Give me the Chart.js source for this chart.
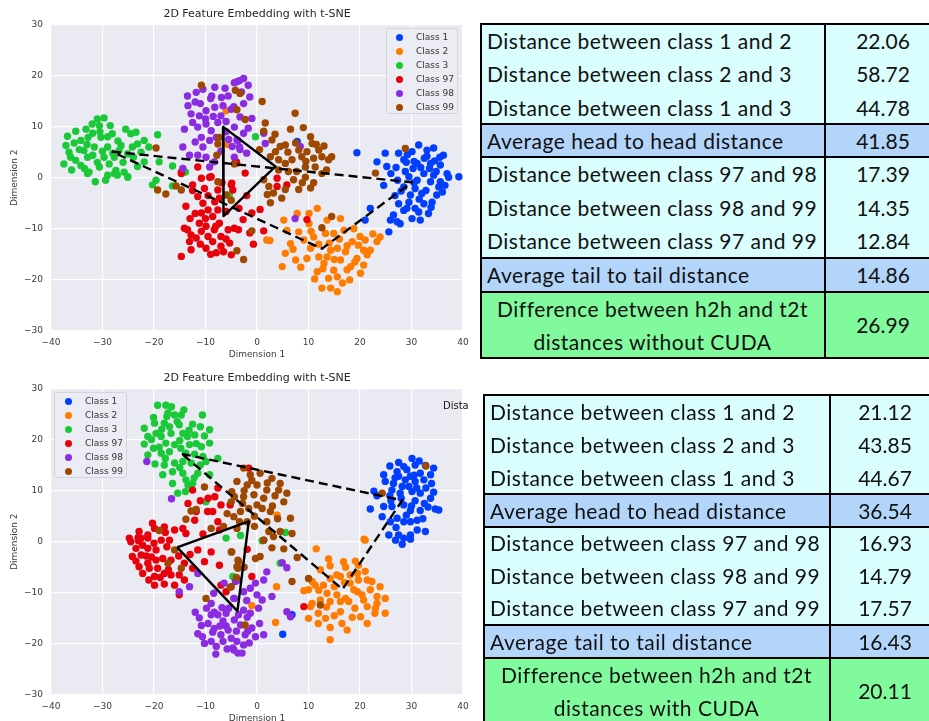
<!DOCTYPE html>
<html>
<head>
<meta charset="utf-8">
<script src="https://cdn.jsdelivr.net/npm/chart.js@4.4.1/dist/chart.umd.min.js"></script>
<style>
  body { margin: 0; width: 929px; height: 721px; overflow: hidden; background: #fff; position: relative; font-family: 'DejaVu Sans', sans-serif; }
  canvas.plot { position: absolute; left: 0; }
  .legend { position: absolute; background: rgba(236, 236, 244, 0.9); border: 1px solid #d4d4da; border-radius: 3px; box-sizing: border-box; }
  .legend .item { position: absolute; height: 14px; line-height: 14px; font-size: 9px; color: #333; white-space: nowrap; }
  .legend .dot { position: absolute; width: 7px; height: 7px; border-radius: 50%; top: 3.5px; }
  .tbl { position: absolute; font-family: Lato, 'Open Sans', sans-serif; font-size: 21px; color: #111; }
  .tbl .row { position: absolute; left: 0; width: 100%; }
  .tbl .dist { background: #dafdfd; }
  .tbl .avg { background: #b3d5f9; }
  .tbl .diff { background: #80fa9c; }
  .tbl .lab { position: absolute; left: 0; top: 0; box-sizing: border-box; padding-left: 7px; white-space: nowrap; letter-spacing: 0.5px; }
  .tbl .lab.center { text-align: center; padding-left: 0; }
  .tbl .val { position: absolute; top: 0; right: 0; text-align: center; }
  .tbl .line { position: absolute; background: #000; }
  #cut-text { position: absolute; left: 443px; top: 400px; width: 26px; overflow: hidden; font-size: 10px; color: #111; white-space: nowrap; }
</style>
</head>
<body>
<canvas id="chart-top" class="plot" width="475" height="365" style="top:0px;width:475px;height:365px"></canvas>
<canvas id="chart-bottom" class="plot" width="475" height="365" style="top:364px;width:475px;height:365px"></canvas>
<div id="legend-top" class="legend" style="left:386px;top:28px;width:72px;height:86px"></div>
<div id="legend-bottom" class="legend" style="left:54px;top:392px;width:73px;height:86px"></div>
<div id="cut-text">Distances</div>
<div id="table-top" class="tbl" style="left:480px;top:24px;width:461px"></div>
<div id="table-bottom" class="tbl" style="left:483px;top:395px;width:457px"></div>
<script>
const classNames = ['Class 1', 'Class 2', 'Class 3', 'Class 97', 'Class 98', 'Class 99'];
const classColors = ['#023eff', '#ff7c00', '#1ac938', '#e8000b', '#8b2be2', '#9f4800'];

// embedding without CUDA (top)
const top1 = [[31.4,6.4],[30.1,5.1],[33.0,5.4],[34.3,5.8],[36.2,4.4],[27.5,4.8],[24.9,4.8],[23.3,3.1],[25.2,2.2],[28.5,3.5],[31.1,2.8],[33.7,2.8],[35.6,2.5],[36.9,0.8],[39.2,0.2],[19.4,4.9],[7.8,7.1],[28.8,1.2],[32.4,0.8],[34.3,0.5],[31.1,-0.5],[33.7,-0.8],[35.3,-1.8],[37.2,0.1],[28.5,-1.8],[29.8,-3.4],[27.5,-5.1],[29.1,-6.0],[30.7,-6.0],[32.4,-5.1],[33.3,-7.0],[31.7,-8.3],[30.1,-8.0],[27.8,-9.0],[26.5,-7.3],[25.6,-10.6],[25.9,-8.3],[27.2,-8.6],[22.0,-6.0],[21.0,-8.3],[34.9,-3.4],[35.6,-0.8],[30.7,-2.1],[24.6,-1.5],[32.0,-3.1],[28.5,-6.4],[31.4,-6.7],[33.5,1.8],[31.8,2.0],[29.5,0.2],[34.8,1.2],[30.5,-1.0],[32.8,-2.5],[36.0,-2.8],[26.8,-3.5],[29.0,3.0],[32.5,3.8],[30.3,1.8],[34.0,-4.8],[28.0,-2.6],[29.2,4.5],[33.0,4.2],[30.5,3.2],[35.5,4.0],[27.0,2.0],[31.5,-4.2],[29.5,-4.8],[33.8,-5.8],[27.3,-0.5],[36.5,-1.5],[34.5,3.3],[26.0,0.8]];
const top2 = [[5.2,-8.3],[7.8,-7.0],[10.1,-7.0],[11.7,-6.0],[13.6,-8.3],[16.2,-8.0],[16.9,-10.3],[14.9,-10.9],[13.3,-10.9],[11.0,-11.6],[9.1,-12.2],[6.5,-12.9],[5.5,-14.8],[7.5,-16.1],[9.7,-15.8],[12.0,-15.5],[14.3,-14.2],[15.6,-13.8],[17.2,-14.5],[18.5,-12.5],[19.7,-13.2],[21.0,-12.2],[22.0,-14.2],[23.3,-12.5],[23.9,-11.6],[19.4,-15.8],[20.7,-17.1],[20.1,-18.7],[18.2,-17.4],[16.2,-16.1],[14.9,-18.1],[13.9,-19.7],[15.6,-19.4],[16.6,-20.6],[14.3,-21.6],[12.6,-21.6],[15.6,-22.3],[11.7,-18.4],[4.9,-17.4],[13.0,-16.8],[17.5,-18.0],[13.6,-15.5],[10.4,-13.8],[8.1,-10.6],[1.9,-12.2],[2.5,-12.3],[10.1,-9.0],[5.8,-10.3],[20.7,-14.2],[21.4,-15.1],[-6.0,13.1],[-5.7,6.5],[-3.9,2.8],[16.0,-12.0],[18.8,-10.0],[14.0,-12.8],[12.0,-13.0],[10.5,-10.5],[15.0,-16.0],[17.5,-13.3],[19.0,-16.5],[12.8,-17.8],[11.2,-19.8],[18.0,-20.0],[7.0,-14.0],[8.5,-17.5],[22.5,-11.0],[20.0,-11.5]];
const top3 = [[-36.8,8.1],[-37.1,6.3],[-36.5,5.0],[-37.5,2.7],[-36.2,4.0],[-35.2,9.1],[-34.2,7.3],[-33.2,9.5],[-32.8,7.9],[-31.9,8.7],[-31.0,11.5],[-29.7,11.7],[-30.6,10.2],[-30.3,7.9],[-29.0,6.0],[-31.6,6.0],[-32.9,4.0],[-34.2,2.4],[-32.6,1.1],[-30.6,2.1],[-29.7,4.0],[-28.7,2.7],[-27.4,1.4],[-27.7,4.0],[-28.1,8.6],[-26.4,6.3],[-25.5,9.5],[-24.5,8.6],[-23.5,8.9],[-23.2,6.6],[-25.1,4.7],[-24.2,6.0],[-21.9,7.3],[-21.0,6.0],[-19.3,8.4],[-21.9,3.1],[-23.2,2.2],[-25.8,1.1],[-25.1,0.1],[-27.1,0.5],[-35.2,3.4],[-33.6,5.3],[-31.9,4.4],[-26.8,5.3],[-29.0,0.5],[-19.0,3.1],[-16.4,2.3],[-31.4,-0.8],[-29.4,-0.5],[-32.9,0.8],[-27.7,0.8],[-25.1,0.2],[-20.3,-1.4],[-19.6,-0.5],[-16.4,-1.6],[-5.4,-3.4],[-0.3,8.0],[-13.9,1.1],[-35.5,6.8],[-34.5,5.5],[-33.0,6.5],[-30.0,5.2],[-28.0,4.8],[-27.0,7.2],[-26.0,3.0],[-30.5,9.0],[-32.0,10.5],[-28.5,10.2],[-24.0,4.0],[-22.5,5.0],[-33.5,1.8],[-36.0,1.5],[-29.0,8.0],[-31.0,3.0]];
const top97 = [[-14.7,0.8],[-12.5,-1.4],[-10.8,-0.1],[-8.9,0.2],[-10.2,-2.1],[-7.6,-2.4],[-11.5,-3.7],[-10.5,-5.0],[-9.5,-6.3],[-8.2,-4.7],[-7.3,-4.0],[-5.0,-1.4],[-4.7,-2.4],[-13.8,-5.6],[-10.8,-6.9],[-8.6,-7.6],[-7.6,-6.3],[-14.1,-9.9],[-13.5,-10.2],[-13.1,-12.5],[-14.7,-15.4],[-12.8,-14.1],[-11.8,-11.8],[-10.8,-10.5],[-9.9,-9.5],[-9.5,-11.5],[-9.9,-13.8],[-8.6,-12.5],[-8.3,-10.2],[-7.3,-8.9],[-7.0,-11.5],[-7.0,-13.4],[-5.3,-12.8],[-5.0,-15.1],[-5.6,-10.2],[-4.4,-9.9],[-3.6,-10.2],[-6.0,-6.6],[-11.2,-8.9],[-12.8,-11.2],[-7.9,-14.7],[-4.9,-1.1],[-2.7,-8.2],[-1.4,-10.8],[-1.0,-6.9],[0.6,-6.2],[1.3,-10.4],[3.9,-1.7],[5.8,-1.4],[-0.7,-13.0],[9.7,-8.2],[-4.2,3.1],[-2.3,0.9],[3.9,-0.1],[-14.7,1.1],[-11.5,2.1],[-9.2,0.1],[-4.0,3.1],[-10.0,-8.0],[-12.0,-7.0],[-6.0,-12.0],[-8.0,-9.5],[-11.0,-13.0],[-9.0,-15.0],[-6.5,-14.5],[-12.5,-2.5],[-9.5,-3.5],[-6.8,-1.0],[-13.0,-8.0],[-3.5,-6.0],[-2.0,-3.5]];
const top98 = [[-11.8,16.7],[-10.5,17.3],[-8.2,17.7],[-6.9,15.7],[-5.6,16.0],[-4.4,18.6],[-3.4,19.0],[-13.4,14.1],[-12.8,12.5],[-11.2,12.1],[-9.9,13.1],[-8.2,13.8],[-6.6,14.1],[-5.0,13.4],[-11.5,9.9],[-9.9,10.5],[-8.9,9.2],[-7.6,10.8],[-10.8,7.9],[-9.2,7.3],[-7.9,7.9],[-14.1,9.5],[-14.4,6.0],[-13.1,4.4],[-11.5,4.4],[-9.9,4.0],[-8.3,3.1],[-9.2,2.1],[-14.4,1.8],[-4.4,4.0],[-3.4,6.0],[-7.0,12.1],[-4.4,9.9],[-3.7,7.3],[-2.6,19.4],[-3.9,18.8],[-1.7,18.1],[-1.4,15.8],[-2.6,14.5],[-4.5,13.9],[-3.3,11.9],[-1.0,11.6],[-1.7,9.7],[-2.6,8.7],[-3.9,7.4],[-4.8,6.1],[-3.3,5.5],[-2.0,4.8],[1.3,8.7],[1.6,6.7],[8.4,6.1],[7.4,-8.0],[-12.0,14.8],[-9.0,15.5],[-6.0,11.0],[-12.5,10.8],[-10.0,11.5],[-8.5,12.0],[-6.0,9.0],[-5.5,7.5],[-10.5,6.0],[-12.0,7.0],[-7.0,5.2],[-6.2,17.5],[-8.8,16.0],[-3.0,16.8],[-13.5,16.0],[-11.0,14.5]];
const top99 = [[-10.8,18.1],[-7.3,7.9],[-7.6,6.6],[-7.8,4.4],[-19.6,5.8],[-4.4,2.7],[-4.2,17.1],[-3.3,16.5],[1.0,14.9],[7.4,12.6],[-3.9,13.3],[-2.3,11.4],[1.6,10.7],[1.3,9.1],[2.9,7.4],[4.5,6.1],[5.5,6.4],[3.6,5.1],[2.6,4.1],[8.1,5.4],[10.4,8.0],[10.7,6.7],[9.7,5.1],[12.0,5.4],[8.7,4.1],[11.0,3.8],[6.8,3.5],[5.5,2.8],[4.2,3.5],[12.6,4.1],[13.9,3.5],[14.5,4.1],[11.3,2.1],[9.4,2.1],[7.7,1.2],[13.5,1.5],[28.8,5.7],[1.3,-0.4],[2.3,-1.7],[2.0,-3.3],[2.6,-4.9],[6.1,1.2],[7.1,-0.4],[5.5,-2.3],[4.8,-4.0],[8.1,-2.3],[10.4,-2.0],[11.0,-1.0],[9.4,0.1],[12.6,0.8],[14.5,-7.6],[12.6,-9.8],[-3.9,-14.3],[-2.6,-16.0],[-1.0,-10.4],[23.0,0.9],[-19.3,-2.4],[-17.7,-3.2],[-15.7,-1.6],[-14.7,-2.4],[-7.6,-0.8],[-5.0,-4.4],[-6.0,-3.4],[3.5,8.5],[6.5,9.5],[9.0,9.8],[11.5,6.5],[7.5,6.8],[6.0,5.0],[9.5,3.2],[4.2,1.5],[8.8,-1.0],[3.2,-3.0],[0.5,5.5],[13.0,6.2]];
const topHead = [[-28.2,5.1],[30.1,-0.9],[12.6,-13.9],[-28.2,5.1]];
const topTail = [[-6.6,10.0],[-6.5,-7.5],[3.6,2.2],[-6.6,10.0]];

// embedding with CUDA (bottom)
const bot1 = [[30.1,16.3],[25.8,14.8],[28.5,14.7],[30.7,15.0],[32.7,14.9],[34.3,14.4],[24.6,13.1],[27.2,13.7],[29.1,14.1],[31.7,13.4],[33.7,13.1],[24.9,11.8],[26.5,11.4],[28.8,12.1],[30.7,11.8],[32.4,12.1],[33.9,11.4],[22.7,9.9],[23.3,9.0],[26.2,10.1],[27.8,9.5],[30.1,9.8],[31.7,9.5],[34.3,9.7],[33.7,8.5],[30.7,8.0],[28.5,7.2],[24.6,6.9],[22.0,6.4],[26.2,6.9],[29.8,6.1],[31.7,6.1],[34.6,6.4],[35.3,6.2],[24.3,4.9],[27.2,4.6],[25.9,3.9],[28.5,3.9],[29.8,3.9],[31.1,4.2],[32.7,2.0],[31.1,2.3],[27.5,1.3],[28.5,0.7],[29.8,1.3],[25.6,1.3],[26.9,0.3],[28.2,-0.5],[29.8,0.5],[6.8,-14.3],[5.0,-18.1],[29.5,10.8],[31.0,10.5],[27.5,12.8],[32.5,7.5],[28.0,8.5],[30.5,13.0],[26.0,8.0],[27.5,15.5],[29.8,12.8],[32.8,10.5],[28.2,10.8],[25.8,9.0],[30.0,7.0],[32.2,4.5],[27.0,2.8],[26.8,12.5],[33.2,6.8],[29.0,5.2],[31.5,15.8]];
const bot2 = [[11.5,-1.4],[13.9,-3.4],[14.2,-4.7],[16.8,-3.9],[17.2,-5.0],[19.1,-3.8],[19.7,-4.6],[21.0,0.3],[12.3,-5.5],[10.7,-7.8],[11.3,-8.5],[10.0,-9.4],[9.1,-9.6],[12.9,-8.5],[14.2,-7.2],[16.2,-6.8],[18.1,-6.5],[18.1,-8.1],[19.7,-7.5],[21.4,-7.5],[22.3,-7.8],[23.9,-8.8],[22.0,-9.4],[20.4,-10.4],[18.8,-9.4],[17.2,-11.1],[15.5,-10.4],[13.6,-10.1],[12.3,-11.4],[10.7,-12.1],[10.4,-12.7],[11.9,-14.0],[13.3,-15.0],[10.0,-15.0],[11.9,-16.0],[16.2,-13.7],[17.8,-11.7],[14.2,-11.7],[21.4,-12.7],[23.3,-12.1],[24.9,-11.1],[24.9,-14.0],[22.9,-14.0],[20.1,-14.7],[21.4,-16.0],[17.5,-17.3],[14.2,-19.2],[23.3,-10.7],[16.2,-11.7],[20.7,-11.4],[3.8,-8.8],[3.6,-15.8],[-1.0,-12.5],[3.9,5.2],[20.8,0.5],[15.0,-8.8],[19.0,-13.0],[15.5,-6.5],[17.0,-8.0],[19.5,-9.8],[13.5,-12.8],[15.0,-14.5],[18.5,-14.8],[12.0,-9.5],[21.0,-5.8],[23.0,-13.0],[16.5,-16.0],[19.5,-6.2],[14.2,-16.8]];
const bot3 = [[-19.3,26.7],[-17.7,26.7],[-16.6,26.4],[-14.7,24.8],[-14.2,25.8],[-17.3,25.2],[-16.0,24.8],[-20.1,24.3],[-19.9,23.2],[-18.0,23.2],[-17.0,22.5],[-15.1,22.9],[-12.5,23.0],[-10.6,24.8],[-21.9,22.2],[-21.2,20.6],[-19.6,21.2],[-18.6,20.6],[-16.7,21.2],[-14.4,21.2],[-13.5,20.6],[-12.1,20.9],[-10.2,20.7],[-9.2,21.9],[-21.9,19.1],[-20.1,18.3],[-17.7,19.3],[-16.0,19.0],[-13.1,19.0],[-10.8,18.6],[-9.2,19.3],[-21.2,17.0],[-18.6,17.3],[-17.0,17.6],[-13.8,17.3],[-12.1,17.1],[-10.5,16.7],[-19.8,15.2],[-18.0,15.0],[-16.0,15.4],[-14.4,15.7],[-12.8,15.4],[-9.9,15.7],[-7.6,16.3],[-16.4,13.7],[-14.4,13.4],[-11.5,13.4],[-18.3,13.1],[-13.8,12.1],[-9.2,13.1],[-16.4,11.4],[-13.4,11.1],[-12.5,11.4],[-15.4,9.5],[-13.9,9.8],[-9.9,7.8],[-6.0,0.7],[5.5,1.8],[-3.2,1.2],[1.0,0.2],[-4.7,-6.8],[4.5,-4.2],[-17.5,24.5],[-15.5,23.5],[-13.2,21.8],[-11.0,22.5],[-18.5,22.0],[-20.5,20.0],[-15.0,19.8],[-11.8,19.2],[-19.0,18.5],[-14.8,18.3],[-17.8,16.3],[-11.0,15.0],[-15.0,14.5],[-12.2,12.5]];
const bot97 = [[-24.8,0.7],[-24.5,0.0],[-23.5,-1.3],[-24.2,-2.9],[-22.5,-2.6],[-22.9,-4.9],[-21.2,-4.2],[-22.2,-6.2],[-20.9,-5.2],[-19.9,-6.8],[-19.9,-8.5],[-18.0,-8.3],[-19.3,-5.2],[-18.0,-6.2],[-18.3,-3.3],[-19.6,-3.6],[-21.2,-1.3],[-19.6,-1.6],[-22.2,-0.7],[-23.1,0.8],[-21.2,0.7],[-18.6,0.3],[-17.0,0.3],[-16.7,-3.6],[-16.7,-6.5],[-15.1,-6.5],[-14.1,-7.5],[-14.1,-4.2],[-12.5,-5.2],[-11.5,-1.6],[-15.1,-10.4],[-10.2,-3.9],[-8.9,-2.0],[-7.3,-4.6],[-7.0,-8.5],[-6.0,-9.8],[-22.9,2.0],[-22.5,0.7],[-21.2,1.3],[-20.3,3.6],[-19.9,2.6],[-18.0,2.9],[-16.0,2.3],[-14.4,2.6],[-13.8,1.6],[-12.1,4.2],[-11.8,5.9],[-12.5,10.1],[-13.4,7.5],[-9.6,5.9],[-8.2,8.8],[-7.6,10.5],[-7.0,7.2],[-8.6,5.9],[-7.6,3.9],[-7.3,2.3],[-1.6,14.4],[-5.2,7.2],[-1.9,-1.5],[-1.0,-6.8],[9.1,-12.7],[-20.5,-3.0],[-17.5,-1.0],[-23.5,-3.8],[-21.5,-2.8],[-20.0,-0.3],[-18.8,-7.0],[-17.2,-5.5],[-21.0,-7.5],[-16.0,-8.5],[-23.0,0.2],[-17.8,1.8],[-15.2,-2.8],[-13.0,-2.5],[-10.5,1.5],[-9.5,8.5],[-11.0,8.0]];
const bot98 = [[-11.5,-6.2],[-13.1,-8.8],[-15.1,-9.8],[-8.9,-12.1],[-12.0,-13.8],[-11.2,-14.9],[-10.8,-16.4],[-11.5,-18.0],[-10.6,-18.6],[-10.2,-19.9],[-8.9,-19.5],[-8.6,-17.7],[-8.9,-14.3],[-8.3,-13.8],[-7.6,-14.3],[-6.8,-12.9],[-6.6,-15.5],[-8.3,-17.0],[-7.0,-18.2],[-7.9,-20.5],[-6.6,-19.5],[-5.6,-17.3],[-5.0,-18.9],[-4.7,-20.8],[-3.7,-21.8],[-4.4,-15.3],[-3.6,-14.3],[-6.4,-8.1],[-8.4,-10.1],[-4.4,-11.1],[-3.7,-7.5],[-4.2,-7.8],[-2.6,-13.4],[-1.3,-14.0],[0.0,-10.4],[1.0,-11.4],[1.9,-5.9],[1.3,-7.5],[2.9,-10.7],[-0.3,-8.1],[-1.3,-9.1],[-2.6,-9.8],[-4.5,-11.1],[-3.2,-16.3],[-1.9,-14.8],[-1.0,-16.9],[-0.3,-18.6],[1.3,-18.2],[-2.3,-18.2],[-3.9,-19.5],[-2.6,-20.2],[-2.9,-21.8],[-4.5,-21.2],[4.9,-4.1],[5.8,-5.1],[6.5,-14.7],[5.8,-13.7],[-21.4,15.7],[-16.6,8.4],[-6.0,-16.5],[-5.5,-13.0],[-9.5,-16.0],[-7.2,-16.5],[-5.8,-21.0],[-4.0,-17.5],[-1.8,-17.5],[0.3,-13.0],[-2.0,-11.5],[-6.0,-14.0],[-9.8,-13.0],[-8.0,-22.0],[-1.5,-19.8],[0.5,-16.0]];
const bot99 = [[-2.6,14.4],[-1.3,13.1],[0.6,13.4],[2.9,12.4],[4.5,11.4],[4.2,10.1],[1.9,10.1],[0.0,11.1],[-1.9,11.1],[-3.9,11.8],[-4.9,9.8],[-2.6,8.8],[-0.6,9.2],[1.3,8.5],[2.6,5.9],[0.0,7.2],[-1.6,6.5],[-3.2,5.9],[-4.5,4.9],[-1.9,3.9],[1.9,3.9],[5.2,7.8],[6.5,4.6],[6.8,1.6],[4.5,2.0],[2.3,2.0],[1.3,0.3],[-3.9,2.6],[-10.2,10.7],[-11.8,6.3],[-12.8,6.0],[-13.8,4.4],[-8.9,2.6],[-5.0,7.8],[-4.4,8.8],[-3.4,3.9],[-19.0,2.2],[-16.0,-1.6],[-17.3,-4.2],[-14.7,-5.2],[-9.9,-11.1],[-5.0,-2.0],[-3.7,-3.6],[-3.7,-5.2],[-5.0,-8.8],[-4.9,-2.0],[-3.9,-4.9],[-3.6,-3.9],[-0.3,-3.3],[0.6,-2.9],[1.3,0.3],[2.9,-1.2],[5.2,-1.4],[7.8,-3.1],[6.8,-7.8],[10.0,-7.2],[12.3,-12.4],[-2.3,-16.3],[-5.2,-8.9],[32.8,14.8],[24.3,9.5],[-0.5,5.0],[3.0,7.0],[-1.0,12.0],[2.0,11.5],[3.5,9.0],[-2.5,10.0],[1.0,6.5],[4.0,4.5],[-0.5,3.0],[3.2,1.0],[-5.8,5.5],[-2.8,7.5],[5.8,9.5],[-6.5,3.0],[-4.0,-7.0],[-2.5,-5.0]];
const botHead = [[-14.6,17.2],[28.2,8.1],[16.6,-9.3],[-14.6,17.2]];
const botTail = [[-15.5,-1.1],[-1.6,4.0],[-3.8,-13.6],[-15.5,-1.1]];

const xTicks = [-40, -30, -20, -10, 0, 10, 20, 30, 40];
const yTicks = [-30, -20, -10, 0, 10, 20, 30];

// table contents
const rowLabels = ['Distance between class 1 and 2', 'Distance between class 2 and 3', 'Distance between class 1 and 3', 'Average head to head distance', 'Distance between class 97 and 98', 'Distance between class 98 and 99', 'Distance between class 97 and 99', 'Average tail to tail distance'];
const rowKinds = ['dist', 'dist', 'dist', 'avg', 'dist', 'dist', 'dist', 'avg', 'diff'];
const topValues = [22.06, 58.72, 44.78, 41.85, 17.39, 14.35, 12.84, 14.86, 26.99];
const bottomValues = [21.12, 43.85, 44.67, 36.54, 16.93, 14.79, 17.57, 16.43, 20.11];
const topDiffLabel = ['Difference between h2h and t2t', 'distances without CUDA'];
const bottomDiffLabel = ['Difference between h2h and t2t', 'distances with CUDA'];

function toPoints(list) {
  return list.map(p => ({x: p[0], y: p[1]}));
}

const plotBackground = {
  id: 'plotBackground',
  beforeDraw(chart) {
    const {ctx, chartArea} = chart;
    ctx.save();
    ctx.fillStyle = '#eaeaf2';
    ctx.fillRect(chartArea.left, chartArea.top, chartArea.width, chartArea.height);
    ctx.restore();
  }
};

function minusSign(v) {
  return String(v).replace('-', '\u2212');
}

function makeConfig(classes, head, tail) {
  const datasets = classes.map((pts, i) => ({
    label: classNames[i],
    data: toPoints(pts),
    backgroundColor: classColors[i],
    borderWidth: 0,
    pointRadius: 3.7,
    pointHoverRadius: 3.7,
    order: classes.length - i
  }));
  datasets.push({
    label: 'head',
    data: toPoints(head),
    showLine: true,
    borderColor: '#000',
    borderWidth: 2.4,
    borderDash: [9, 5],
    borderJoinStyle: 'round',
    pointRadius: 0,
    order: 0
  });
  datasets.push({
    label: 'tail',
    data: toPoints(tail),
    showLine: true,
    borderColor: '#000',
    borderWidth: 2.4,
    borderJoinStyle: 'round',
    pointRadius: 0,
    order: 0
  });

  return {
    type: 'scatter',
    data: {datasets: datasets},
    options: {
      responsive: false,
      animation: false,
      events: [],
      layout: {padding: {left: 0, right: 12, top: 0, bottom: 0}},
      plugins: {
        legend: {display: false},
        tooltip: {enabled: false},
        title: {
          display: true,
          text: '2D Feature Embedding with t-SNE',
          fullSize: false,
          color: '#262626',
          font: {family: 'DejaVu Sans', size: 11, weight: 'normal'},
          padding: {top: 7.4, bottom: 3.8}
        }
      },
      scales: {
        x: {
          type: 'linear',
          min: -40,
          max: 40,
          afterBuildTicks: scale => { scale.ticks = xTicks.map(v => ({value: v})); },
          afterFit: scale => { scale.height = 34; },
          grid: {color: '#ffffff', lineWidth: 1.2, drawTicks: false},
          border: {display: false},
          ticks: {padding: 6, color: '#3a3a3a', font: {family: 'DejaVu Sans', size: 9}, callback: minusSign, maxRotation: 0},
          title: {display: true, text: 'Dimension 1', color: '#3a3a3a', font: {family: 'DejaVu Sans', size: 9}, padding: {top: 0, bottom: 4.6}}
        },
        y: {
          type: 'linear',
          min: -30,
          max: 30,
          afterBuildTicks: scale => { scale.ticks = yTicks.map(v => ({value: v})); },
          afterFit: scale => { scale.width = 51; },
          grid: {color: '#ffffff', lineWidth: 1.2, drawTicks: false},
          border: {display: false},
          ticks: {padding: 8, color: '#3a3a3a', font: {family: 'DejaVu Sans', size: 9}, callback: minusSign},
          title: {display: true, text: 'Dimension 2', color: '#3a3a3a', font: {family: 'DejaVu Sans', size: 9}, padding: {top: 9.5, bottom: 0}}
        }
      }
    },
    plugins: [plotBackground]
  };
}

const chartTop = new Chart(
  document.getElementById('chart-top'),
  makeConfig([top1, top2, top3, top97, top98, top99], topHead, topTail)
);

const chartBottom = new Chart(
  document.getElementById('chart-bottom'),
  makeConfig([bot1, bot2, bot3, bot97, bot98, bot99], botHead, botTail)
);

function buildLegend(id, dotX, textX) {
  const box = document.getElementById(id);
  classNames.forEach((name, i) => {
    const item = document.createElement('div');
    item.className = 'item';
    item.style.left = '0px';
    item.style.top = (1 + i * 14) + 'px';
    const dot = document.createElement('span');
    dot.className = 'dot';
    dot.style.background = classColors[i];
    dot.style.left = (dotX - 3.5) + 'px';
    const text = document.createElement('span');
    text.style.position = 'absolute';
    text.style.left = textX + 'px';
    text.textContent = name;
    item.appendChild(dot);
    item.appendChild(text);
    box.appendChild(item);
  });
}

buildLegend('legend-top', 12, 29);
buildLegend('legend-bottom', 13, 30);

function addLine(box, left, top, width, height) {
  const line = document.createElement('div');
  line.className = 'line';
  line.style.left = left + 'px';
  line.style.top = top + 'px';
  line.style.width = width + 'px';
  line.style.height = height + 'px';
  box.appendChild(line);
}

function buildTable(id, values, diffLabel, heights, split) {
  const box = document.getElementById(id);
  const width = box.offsetWidth;
  let y = 0;
  heights.forEach((h, i) => {
    const row = document.createElement('div');
    row.className = 'row ' + rowKinds[i];
    row.style.top = y + 'px';
    row.style.height = h + 'px';

    const lab = document.createElement('div');
    lab.className = 'lab';
    lab.style.width = split + 'px';
    if (rowKinds[i] === 'diff') {
      lab.classList.add('center');
      lab.style.lineHeight = (h / 2) + 'px';
      lab.innerHTML = diffLabel.join('<br>');
    } else {
      lab.style.lineHeight = h + 'px';
      lab.textContent = rowLabels[i];
    }

    const val = document.createElement('div');
    val.className = 'val';
    val.style.left = split + 'px';
    val.style.lineHeight = h + 'px';
    val.textContent = values[i].toFixed(2);

    row.appendChild(lab);
    row.appendChild(val);
    box.appendChild(row);

    if (i === 0 || i === 3 || i === 4 || i === 7 || i === 8) {
      addLine(box, 0, y - 1, width, 2);
    }
    y += h;
  });
  addLine(box, 0, y - 1, width, 2);
  addLine(box, 0, -1, 2, y + 1);
  addLine(box, split - 1, -1, 2, y + 1);
}

buildTable('table-top', topValues, topDiffLabel, [33.3, 33.3, 33.4, 33, 33.7, 33.7, 33.6, 34, 66], 345);
buildTable('table-bottom', bottomValues, bottomDiffLabel, [33, 33, 33, 33, 32.7, 32.7, 32.6, 33, 66], 347);
</script>
</body>
</html>
